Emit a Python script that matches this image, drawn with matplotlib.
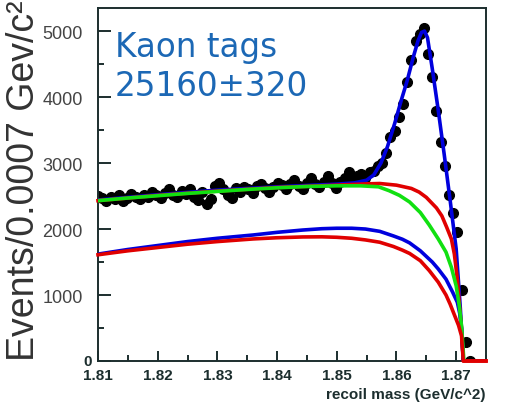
import numpy as np
import matplotlib
matplotlib.use('Agg')
import matplotlib.pyplot as plt

# data: events per 0.0007 GeV bin, first bin centred at 1.8100
bin_start = 1.8100
bin_width = 0.0007
events = [2500, 2470, 2420, 2480, 2450, 2510, 2430, 2470, 2530, 2480,
          2450, 2520, 2490, 2560, 2510, 2470, 2540, 2600, 2520, 2490,
          2570, 2530, 2610, 2480, 2440, 2560, 2380, 2450, 2650, 2700,
          2600, 2520, 2470, 2620, 2560, 2640, 2600, 2540, 2650, 2690,
          2620, 2560, 2640, 2700, 2660, 2610, 2680, 2740, 2650, 2600,
          2700, 2770, 2690, 2640, 2720, 2810, 2700, 2620, 2720, 2780,
          2860, 2740, 2800, 2830, 2780, 2860, 2880, 2950, 3000, 3150,
          3400, 3480, 3700, 3900, 4230, 4560, 4850, 4960, 5050, 4650,
          4300, 3790, 3320, 2950, 2520, 2250, 1950, 1080, 290, 0]

# fitted curves
total_x = [1.810, 1.820, 1.830, 1.840, 1.850, 1.853, 1.855, 1.8562, 1.8574,
           1.8585, 1.8597, 1.8608, 1.8618, 1.8628, 1.8636, 1.8642, 1.8647,
           1.8652, 1.866, 1.867, 1.868, 1.869, 1.870, 1.8707, 1.8712, 1.875]
total_y = [2440, 2520, 2590, 2640, 2680, 2700, 2740, 2820, 3000,
           3250, 3600, 3950, 4250, 4600, 4850, 4980, 5000,
           4900, 4430, 3800, 3130, 2430, 1700, 800, 0, 0]

bkg_red_x = [1.810, 1.820, 1.830, 1.840, 1.850, 1.855, 1.8572, 1.860, 1.8625,
             1.8638, 1.865, 1.8667, 1.8676, 1.8684, 1.8692, 1.8697, 1.8702,
             1.8705, 1.8709, 1.8712, 1.875]
bkg_red_y = [2430, 2510, 2575, 2630, 2665, 2685, 2690, 2665, 2615,
             2560, 2480, 2320, 2200, 2030, 1850, 1620, 1240,
             900, 485, 0, 0]

bkg_green_x = [1.810, 1.815, 1.820, 1.825, 1.830, 1.835, 1.840, 1.845, 1.850,
               1.854, 1.857, 1.8588, 1.8605, 1.8622, 1.864, 1.8655, 1.867,
               1.8683, 1.8692, 1.870, 1.8705, 1.8709, 1.8713]
bkg_green_y = [2430, 2470, 2505, 2540, 2570, 2600, 2625, 2645, 2655,
               2655, 2640, 2580, 2510, 2410, 2250, 2060, 1850,
               1650, 1420, 1140, 850, 530, 0]

low_blue_x = [1.810, 1.815, 1.820, 1.825, 1.830, 1.836, 1.840, 1.8443, 1.8475,
              1.850, 1.8525, 1.8548, 1.8572, 1.8595, 1.861, 1.8622, 1.864,
              1.866, 1.867, 1.8683, 1.8694, 1.8702, 1.8706, 1.8709, 1.8712]
low_blue_y = [1620, 1690, 1750, 1810, 1860, 1910, 1950, 1985, 2005,
              2012, 2012, 2000, 1965, 1895, 1845, 1790, 1670,
              1500, 1395, 1240, 1045, 890, 720, 490, 0]

low_red_x = [1.810, 1.815, 1.820, 1.825, 1.830, 1.836, 1.840, 1.8443, 1.8475,
             1.850, 1.8525, 1.8548, 1.8572, 1.8595, 1.861, 1.8622, 1.864,
             1.8655, 1.867, 1.8683, 1.869, 1.8697, 1.8704, 1.8709, 1.8712,
             1.875]
low_red_y = [1610, 1670, 1720, 1770, 1810, 1850, 1868, 1880, 1882,
             1875, 1860, 1835, 1800, 1735, 1680, 1630, 1520,
             1370, 1195, 1000, 860, 700, 540, 380, 0,
             0]

yticks = [0, 1000, 2000, 3000, 4000, 5000]
xticks = [1.81, 1.82, 1.83, 1.84, 1.85, 1.86, 1.87]

dark = '#1c2e2e'
fig = plt.figure(figsize=(5.06, 4.06), dpi=100)
ax = fig.add_axes([98 / 506, 1 - 362 / 406, 388 / 506, 353 / 406])

x_bins = bin_start + bin_width * np.arange(len(events))
ax.plot(x_bins, events, 'o', color='black', markersize=7, zorder=2)

lw = 2.6
ax.plot(total_x, total_y, color='#0000dd', lw=lw, zorder=3)
ax.plot(bkg_red_x, bkg_red_y, color='#e00000', lw=lw, zorder=4, clip_on=False)
ax.plot(bkg_green_x, bkg_green_y, color='#11e011', lw=lw, zorder=5)
ax.plot(low_blue_x, low_blue_y, color='#0000dd', lw=lw, zorder=4)
ax.plot(low_red_x, low_red_y, color='#e00000', lw=lw, zorder=5, clip_on=False)

ax.set_xlim(1.81, 1.8749)
ax.set_ylim(0, 5350)

ax.set_xticks(xticks)
ax.set_xticklabels(['%.2f' % v for v in xticks], fontfamily='Liberation Sans',
                   fontweight='bold', fontsize=11, color=dark)
ax.set_xticks(np.arange(1.815, 1.875, 0.01), minor=True)
ax.set_yticks(yticks)
ax.set_yticklabels([''] + [str(v) for v in yticks[1:]],
                   fontfamily='Liberation Sans', fontsize=13, color='#444444')
ax.set_yticks(np.arange(500, 5350, 1000), minor=True)
ax.text(-0.026, yticks[0], str(yticks[0]), transform=ax.get_yaxis_transform(),
        ha='center', va='center', fontfamily='Liberation Sans',
        fontweight='bold', fontsize=11, color=dark)

ax.tick_params(which='both', direction='in', color=dark, width=1.4,
               top=False, right=False)
ax.tick_params(axis='y', which='major', length=9, pad=11)
ax.tick_params(axis='y', which='minor', length=4.5)
ax.tick_params(axis='x', which='major', length=7.5, pad=5)
ax.tick_params(axis='x', which='minor', length=4)
for s in ax.spines.values():
    s.set_color(dark)
    s.set_linewidth(1.4)

ax.text(1.8128, 3920, 'Kaon tags\n25160\u00b1320', color='#1c68b5',
        fontsize=23.5, fontfamily='DejaVu Sans', linespacing=1.25,
        va='bottom', ha='left')

ax.text(1.0, -0.075, 'recoil mass (GeV/c^2)', transform=ax.transAxes,
        ha='right', va='top', fontfamily='Liberation Sans', fontweight='bold',
        fontsize=11, color=dark)

fig.text(24 / 506, 1 - 181 / 406, 'Events/0.0007 Gev/c\u00b2', rotation=90,
         ha='center', va='center', fontfamily='Liberation Sans', fontsize=27,
         color='#333333')

fig.savefig('out.png', dpi=100)
